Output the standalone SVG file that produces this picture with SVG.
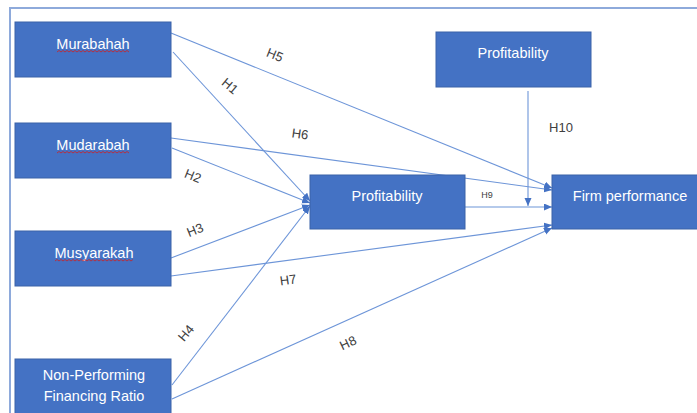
<svg xmlns="http://www.w3.org/2000/svg" width="697" height="413" viewBox="0 0 697 413">
<style>
.box{fill:#4472C4;stroke:#3a62a8;stroke-width:1}
.bt{fill:#ffffff;font-family:"Liberation Sans",Arial,sans-serif;font-size:14.5px;text-anchor:middle}
.ln{stroke:#6d95d8;stroke-width:1.1;fill:none}
.lb{fill:#404040;font-family:"Liberation Sans",Arial,sans-serif;font-size:13px;text-anchor:middle;dominant-baseline:central}
.sq{stroke:#d02020;stroke-width:0.8;fill:none}
</style>
<defs>
<marker id="ah" markerUnits="userSpaceOnUse" markerWidth="9" markerHeight="8" refX="8" refY="3.5" orient="auto">
<path d="M0,0 L8,3.5 L0,7 z" fill="#4472C4"/>
</marker>
</defs>
<rect width="697" height="413" fill="#ffffff"/>
<path d="M10,413 V8 H697" fill="none" stroke="#8eaadb" stroke-width="2"/>
<g id="connectors">
<line class="ln" x1="171" y1="33" x2="552" y2="188" marker-end="url(#ah)"/>
<line class="ln" x1="173" y1="52" x2="310" y2="201" marker-end="url(#ah)"/>
<line class="ln" x1="171" y1="138" x2="552" y2="190" marker-end="url(#ah)"/>
<line class="ln" x1="172" y1="148" x2="310" y2="203" marker-end="url(#ah)"/>
<line class="ln" x1="171" y1="258" x2="310" y2="205" marker-end="url(#ah)"/>
<line class="ln" x1="172" y1="385" x2="310" y2="206" marker-end="url(#ah)"/>
<line class="ln" x1="171" y1="276" x2="552" y2="225" marker-end="url(#ah)"/>
<line class="ln" x1="172" y1="399" x2="552" y2="228" marker-end="url(#ah)"/>
<line class="ln" x1="465" y1="207" x2="552" y2="207" marker-end="url(#ah)"/>
<line class="ln" x1="528" y1="91" x2="528" y2="206" marker-end="url(#ah)"/>
<text class="lb" transform="translate(275,55) rotate(22)">H5</text>
<text class="lb" transform="translate(230,86) rotate(40)">H1</text>
<text class="lb" transform="translate(300,134) rotate(8)">H6</text>
<text class="lb" transform="translate(193,176) rotate(22)">H2</text>
<text class="lb" transform="translate(195,230) rotate(-22)">H3</text>
<text class="lb" transform="translate(288,280) rotate(-8)">H7</text>
<text class="lb" transform="translate(186,333) rotate(-50)">H4</text>
<text class="lb" transform="translate(348,343) rotate(-25)">H8</text>
<text class="lb" x="487" y="195" style="font-size:9px">H9</text>
<text class="lb" x="561" y="127">H10</text>
</g>
<g id="murabahah">
<rect class="box" x="15" y="22" width="156" height="55"/>
<text class="bt" x="93" y="49">Murabahah</text>
<polyline class="sq" points="57,52 59,50.5 61,52 63,50.5 65,52 67,50.5 69,52 71,50.5 73,52 75,50.5 77,52 79,50.5 81,52 83,50.5 85,52 87,50.5 89,52 91,50.5 93,52 95,50.5 97,52 99,50.5 101,52 103,50.5 105,52 107,50.5 109,52 111,50.5 113,52 115,50.5 117,52 119,50.5 121,52 123,50.5 125,52 127,50.5 129,52"/>
</g>
<g id="mudarabah">
<rect class="box" x="15" y="123" width="156" height="55"/>
<text class="bt" x="93" y="150">Mudarabah</text>
<polyline class="sq" points="57,153 59,151.5 61,153 63,151.5 65,153 67,151.5 69,153 71,151.5 73,153 75,151.5 77,153 79,151.5 81,153 83,151.5 85,153 87,151.5 89,153 91,151.5 93,153 95,151.5 97,153 99,151.5 101,153 103,151.5 105,153 107,151.5 109,153 111,151.5 113,153 115,151.5 117,153 119,151.5 121,153 123,151.5 125,153 127,151.5 129,153"/>
</g>
<g id="musyarakah">
<rect class="box" x="15" y="231" width="156" height="55"/>
<text class="bt" x="94" y="258">Musyarakah</text>
<polyline class="sq" points="55,261 57,259.5 59,261 61,259.5 63,261 65,259.5 67,261 69,259.5 71,261 73,259.5 75,261 77,259.5 79,261 81,259.5 83,261 85,259.5 87,261 89,259.5 91,261 93,259.5 95,261 97,259.5 99,261 101,259.5 103,261 105,259.5 107,261 109,259.5 111,261 113,259.5 115,261 117,259.5 119,261 121,259.5 123,261 125,259.5 127,261 129,259.5 131,261 133,259.5"/>
</g>
<g id="npf">
<rect class="box" x="15" y="359" width="156" height="60"/>
<text class="bt" x="94" y="380">Non-Performing</text>
<text class="bt" x="94" y="401">Financing Ratio</text>
</g>
<g id="profitability-mid">
<rect class="box" x="310" y="175" width="155" height="54"/>
<text class="bt" x="387" y="201">Profitability</text>
</g>
<g id="profitability-top">
<rect class="box" x="436" y="32" width="155" height="55"/>
<text class="bt" x="513" y="58">Profitability</text>
</g>
<g id="firm-performance">
<rect class="box" x="552" y="175" width="160" height="54"/>
<text class="bt" x="630" y="201">Firm performance</text>
</g>
</svg>
